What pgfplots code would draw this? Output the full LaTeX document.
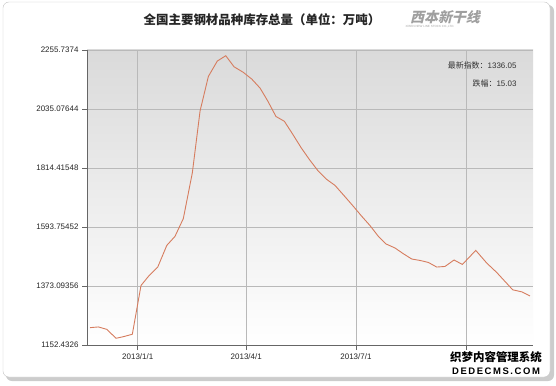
\documentclass[border=0pt]{standalone}
\usepackage{fontspec}
\setmainfont{Liberation Sans}
\newfontfamily\cjk{Noto Sans CJK SC}
\newfontfamily\cjkslant{Noto Sans CJK SC}[FakeSlant=0.25]
\usepackage{pgfplots}
\usepackage{pgfplotstable}
\pgfplotsset{compat=1.18}
\definecolor{linec}{RGB}{214,124,94}
\definecolor{gridc}{RGB}{185,185,185}
\definecolor{topc}{RGB}{218,218,218}
\pgfplotstableread{
day value
-39.6 1217.3
-32.7 1220.0
-25.7 1211.0
-18.0 1177.6
-11.9 1183.6
-4.5 1192.6
2.7 1375.0
8.8 1408.7
16.6 1444.0
24.1 1525.0
30.9 1558.8
37.8 1625.2
45.3 1796.8
51.7 2027.9
58.6 2157.0
66.0 2214.4
73.0 2234.3
79.9 2193.0
87.6 2172.0
94.6 2146.9
101.5 2113.1
107.8 2065.4
114.7 2006.9
121.6 1989.3
128.6 1940.5
135.5 1890.6
142.3 1846.7
149.3 1805.4
156.8 1771.6
163.7 1749.1
172.0 1706.7
178.8 1671.4
185.8 1633.9
192.7 1599.0
199.6 1558.8
206.0 1530.3
213.4 1515.3
220.3 1493.9
227.3 1474.0
234.2 1468.7
241.1 1461.2
248.0 1444.0
254.9 1446.2
262.4 1470.3
269.3 1453.7
280.4 1506.3
289.5 1459.0
297.8 1423.7
304.7 1389.9
311.1 1358.8
318.5 1351.3
325.4 1336.05
}\stock
\begin{document}
\begin{tikzpicture}[x=1bp,y=1bp]
\path[use as bounding box] (0,0) rectangle (556,385);
\fill[gray!40, rounded corners=6] (6,4) rectangle (554,380);
\filldraw[fill=white, draw=gray!45, rounded corners=6] (3,8) rectangle (550,383);
\node[font=\cjk\bfseries\fontsize{12.5}{14}\selectfont, text=black!85] at (262,365) {全国主要钢材品种库存总量（单位：万吨）};
\node[font=\cjkslant\bfseries\fontsize{14}{15}\selectfont, text=gray!75] at (445,368) {西本新干线};
\node[font=\fontsize{3}{3.5}\selectfont, text=gray!70] at (430,358) {XIBEN NEW LINE STOCK CO.,LTD.};
\begin{axis}[
  at={(87bp,40bp)}, anchor=south west,
  scale only axis, width=446bp, height=295bp,
  xmin=-42.1, xmax=327.9,
  ymin=1152.4326, ymax=2255.7374,
  axis background/.style={shade, top color=topc, bottom color=white},
  axis x line*=bottom, axis y line*=left,
  axis line style={-, draw=black!60, line width=0.8pt},
  xtick={0,90,181,273},
  xticklabels={2013/1/1,2013/4/1,2013/7/1,},
  ytick={1152.4326,1373.09356,1593.75452,1814.41548,2035.07644,2255.7374},
  yticklabels={1152.4326,1373.09356,1593.75452,1814.41548,2035.07644,2255.7374},
  tick align=outside,
  major tick length=5bp,
  tick style={draw=black!60, line width=0.8pt},
  grid=major,
  major grid style={draw=gridc, line width=0.7pt},
  ticklabel style={font=\fontsize{8}{9}\selectfont, text=black!85},
  /pgf/number format/assume math mode=true,
  clip=false,
]
\addplot[linec, line width=0.9pt] table[x=day, y=value] {\stock};
\end{axis}
\node[anchor=east, font=\fontsize{8}{9}\selectfont, text=black!80] at (520,320) {{\cjk 最新指数：}1336.05};
\node[anchor=east, font=\fontsize{8}{9}\selectfont, text=black!80] at (520,302) {{\cjk 跌幅：}15.03};
\node[font=\cjk\bfseries\fontsize{11.5}{12}\selectfont, text=black] at (496,28) {织梦内容管理系统};
\node[font=\bfseries\fontsize{9.5}{10}\selectfont, text=black] at (496,14) {D\,E\,D\,E\,C\,M\,S\,.\,C\,O\,M};
\end{tikzpicture}
\end{document}
